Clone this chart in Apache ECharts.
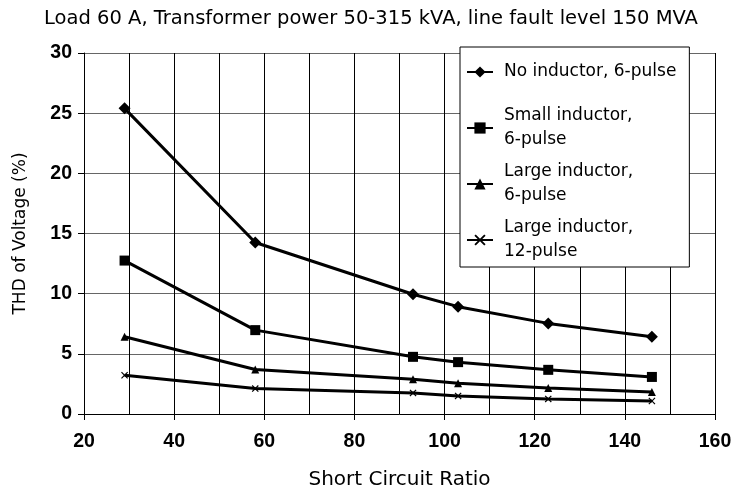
<!DOCTYPE html>
<html>
<head>
<meta charset="utf-8">
<script src="https://cdn.jsdelivr.net/npm/echarts@6/dist/echarts.min.js"></script>
<style>html,body{margin:0;padding:0;background:#fff}#c{width:742px;height:489px}</style>
</head>
<body>
<div id="c"></div>
<script>
var titleText = 'Load 60 A, Transformer power 50-315 kVA, line fault level 150 MVA';
var xName = 'Short Circuit Ratio';
var yName = 'THD of Voltage (%)';
var seriesNames = ['No inductor, 6-pulse', 'Small inductor,\n6-pulse', 'Large inductor,\n6-pulse', 'Large inductor,\n12-pulse'];
var scr = [29, 58, 93, 103, 123, 146];
var noInductor6 = [25.4, 14.25, 9.95, 8.92, 7.53, 6.42];
var smallInductor6 = [12.75, 6.97, 4.75, 4.31, 3.67, 3.08];
var largeInductor6 = [6.42, 3.7, 2.89, 2.56, 2.17, 1.83];
var largeInductor12 = [3.22, 2.11, 1.75, 1.5, 1.25, 1.08];

var FONT = '"Liberation Sans", Arial, Helvetica, sans-serif';
var TFONT = '"DejaVu Sans", "Liberation Sans", Arial, sans-serif';
var xMark = 'path://M0,1.2L1.2,0L5,3.8L8.8,0L10,1.2L6.2,5L10,8.8L8.8,10L5,6.2L1.2,10L0,8.8L3.8,5Z';

function pairs(ys) { return scr.map(function (x, i) { return [x, ys[i]]; }); }
function mk(name, ys, symbol, size) {
  return {
    name: name, type: 'line', data: pairs(ys), symbol: symbol, symbolSize: size,
    showAllSymbol: true,
    lineStyle: { color: '#000', width: 3 },
    itemStyle: { color: '#000', borderWidth: 0 },
    emphasis: { disabled: true }, animation: false, z: 3
  };
}

var chart = echarts.init(document.getElementById('c'), null, { renderer: 'canvas' });
chart.setOption({
  backgroundColor: '#fff',
  animation: false,
  title: {
    text: titleText, left: 'center', top: 4,
    textStyle: { fontFamily: TFONT, fontSize: 19.5, fontWeight: 'normal', color: '#000' }
  },
  grid: { left: 84, right: 27, top: 53, bottom: 75, containLabel: false, outerBoundsMode: 'none' },
  legend: {
    left: 460, top: 47, orient: 'vertical',
    backgroundColor: '#fff', borderColor: '#000', borderWidth: 1,
    padding: [1, 13, 3, 6], itemGap: 8, itemWidth: 26, itemHeight: 14,
    textStyle: { fontFamily: TFONT, fontSize: 17, fontWeight: 'normal', color: '#000', lineHeight: 24, padding: [0, 0, 0, 6] },
    data: [
      { name: seriesNames[0], textStyle: { lineHeight: 48 } },
      { name: seriesNames[1] },
      { name: seriesNames[2] },
      { name: seriesNames[3] }
    ],
    z: 10
  },
  xAxis: {
    type: 'value', min: 20, max: 160, interval: 20,
    name: xName, nameLocation: 'middle', nameGap: 56,
    nameTextStyle: { fontFamily: TFONT, fontSize: 20, fontWeight: 'normal', color: '#000' },
    axisLine: { lineStyle: { color: '#000', width: 1 } },
    axisTick: { show: true, inside: false, length: 6, lineStyle: { color: '#000' } },
    axisLabel: { fontFamily: FONT, fontSize: 19.5, fontWeight: 'bold', color: '#000', margin: 18 },
    splitLine: { show: true, lineStyle: { color: '#000', width: 1 } },
    minorTick: { show: false, splitNumber: 2 },
    minorSplitLine: { show: true, lineStyle: { color: '#000', width: 1 } }
  },
  yAxis: {
    type: 'value', min: 0, max: 30, interval: 5,
    name: yName, nameLocation: 'middle', nameGap: 55, nameRotate: 90,
    nameTextStyle: { fontFamily: TFONT, fontSize: 17, fontWeight: 'normal', color: '#000' },
    axisLine: { show: true, lineStyle: { color: '#000', width: 1 } },
    axisTick: { show: true, inside: false, length: 6, lineStyle: { color: '#000' } },
    axisLabel: { fontFamily: FONT, fontSize: 19.5, fontWeight: 'bold', color: '#000', margin: 12 },
    splitLine: { show: true, lineStyle: { color: '#666', width: 1 } }
  },
  series: [
    mk(seriesNames[0], noInductor6, 'diamond', 12),
    mk(seriesNames[1], smallInductor6, 'rect', 10),
    mk(seriesNames[2], largeInductor6, 'triangle', 8),
    mk(seriesNames[3], largeInductor12, xMark, 7)
  ]
});
</script>
</body>
</html>
